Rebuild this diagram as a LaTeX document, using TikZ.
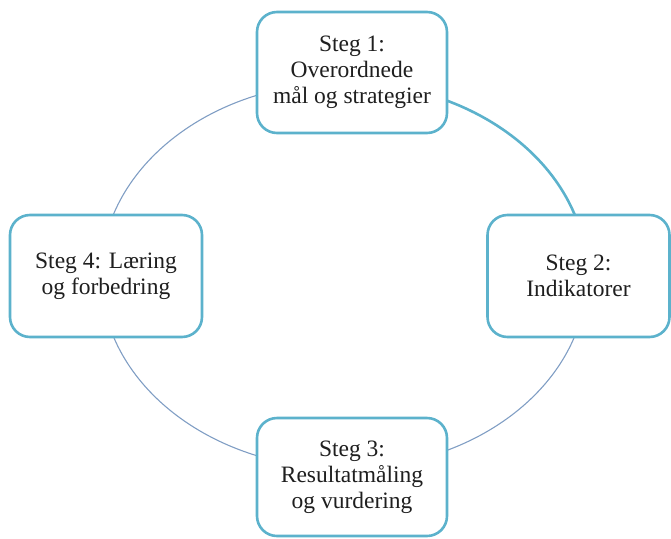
\documentclass[tikz,border=0pt]{standalone}
\usepackage{fontspec}
\setmainfont{Liberation Serif}
\definecolor{boxteal}{RGB}{92,178,204}
\definecolor{arcblue}{RGB}{128,158,196}
\begin{document}
\begin{tikzpicture}[x=1pt,y=-1pt,
  stepbox/.style={draw=boxteal, line width=2.6pt, rounded corners=20pt,
    fill=white, align=center, inner sep=0pt, text=black!88,
    font=\fontsize{23.5}{26}\selectfont,
    minimum width=190pt, minimum height=121pt},
  thinarc/.style={draw=arcblue, line width=1.1pt},
  thickarc/.style={draw=boxteal, line width=2.6pt}]
\useasboundingbox (0,0) rectangle (671,538);

% cycle ellipse: centre (344,275.5), radii 243 x 193
\coordinate (etop) at (344,82.5);
\coordinate (eleft) at (101,275.5);
\coordinate (eright) at (587,275.5);
\coordinate (ebottom) at (344,468.5);

\draw[thickarc] (etop) arc[start angle=90, end angle=0, x radius=243pt, y radius=193pt];
\draw[thinarc] (etop) arc[start angle=90, end angle=180, x radius=243pt, y radius=193pt];
\draw[thinarc] (eleft) arc[start angle=180, end angle=270, x radius=243pt, y radius=193pt];
\draw[thinarc] (ebottom) arc[start angle=270, end angle=360, x radius=243pt, y radius=193pt];

% the four steps
\node[stepbox] (s1) at (352,72.5) {Steg 1:\\Overordnede\\mål og strategier};
\node[stepbox, minimum width=182pt, minimum height=122pt] (s2) at (578.5,276) {Steg 2:\\Indikatorer};
\node[stepbox, minimum height=118pt] (s3) at (352,477) {Steg 3:\\Resultatmåling\\og vurdering};
\node[stepbox, minimum width=192pt, minimum height=122pt] (s4) at (106,276) {Steg 4: Læring\\og forbedring};
\end{tikzpicture}
\end{document}
